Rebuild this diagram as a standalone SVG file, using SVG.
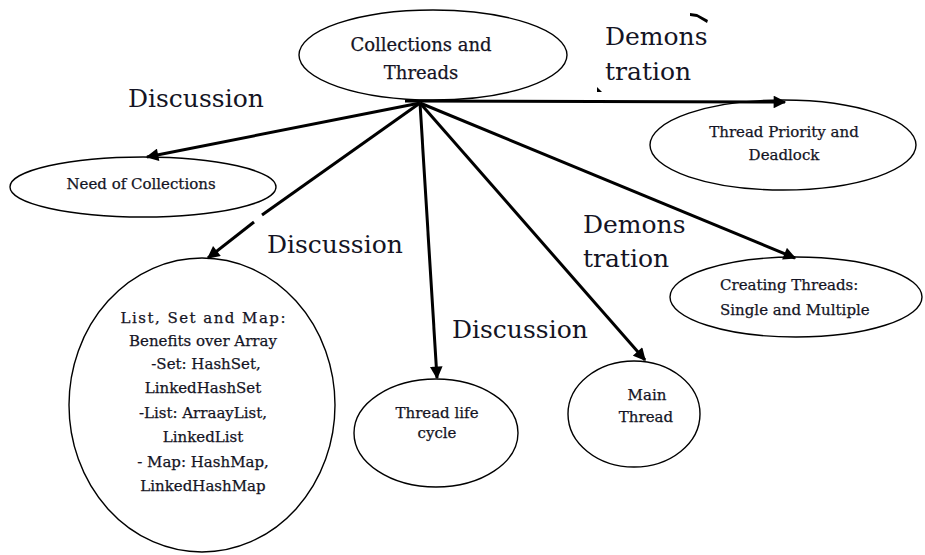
<svg xmlns="http://www.w3.org/2000/svg" width="925" height="555" viewBox="0 0 925 555">
  <style>
    .node ellipse { fill: #ffffff; stroke: #000000; stroke-width: 1.4; }
    .node text { font-family: "DejaVu Serif", "Liberation Serif", serif; font-size: 15px; fill: #141424; stroke: #141424; stroke-width: 0.25; text-anchor: middle; }
    .node text.big { font-size: 18px; }
    .label { font-family: "DejaVu Serif", "Liberation Serif", serif; font-size: 25px; fill: #141424; }
    .edge { stroke: #000000; stroke-width: 3; fill: none; marker-end: url(#head); }
    .mark { fill: #000000; stroke: none; }
  </style>
  <defs>
    <marker id="head" viewBox="0 0 10 10" refX="9" refY="5" markerWidth="4.5" markerHeight="4.2" orient="auto" markerUnits="strokeWidth">
      <path d="M0,0 L10,5 L0,10 Z" fill="#000000"/>
    </marker>
  </defs>

  <rect x="0" y="0" width="925" height="555" fill="#ffffff"/>

  <!-- nodes -->
  <g id="collections-threads" class="node">
    <ellipse cx="433" cy="55" rx="134" ry="45"/>
    <text class="big" x="421" y="51">Collections and</text>
    <text class="big" x="421" y="79">Threads</text>
  </g>

  <g id="need-of-collections" class="node">
    <ellipse cx="143" cy="187" rx="133" ry="30"/>
    <text x="141" y="189">Need of Collections</text>
  </g>

  <g id="thread-priority" class="node">
    <ellipse cx="783" cy="145" rx="133" ry="45"/>
    <text x="784" y="137">Thread Priority and</text>
    <text x="784" y="160">Deadlock</text>
  </g>

  <g id="creating-threads" class="node">
    <ellipse cx="796" cy="297" rx="126" ry="40"/>
    <text x="720" y="290" style="text-anchor:start">Creating Threads:</text>
    <text x="720" y="315" style="text-anchor:start">Single and Multiple</text>
  </g>

  <g id="list-set-map" class="node">
    <ellipse cx="202" cy="405" rx="133" ry="147"/>
    <text x="203" y="323" textLength="165" lengthAdjust="spacing">List, Set and Map:</text>
    <text x="203" y="346">Benefits over Array</text>
    <text x="206" y="369">-Set: HashSet,</text>
    <text x="203" y="393">LinkedHashSet</text>
    <text x="203" y="418">-List: ArraayList,</text>
    <text x="203" y="442">LinkedList</text>
    <text x="203" y="467">- Map: HashMap,</text>
    <text x="203" y="491">LinkedHashMap</text>
  </g>

  <g id="thread-life-cycle" class="node">
    <ellipse cx="436" cy="433" rx="82" ry="54"/>
    <text x="437" y="418">Thread life</text>
    <text x="437" y="438">cycle</text>
  </g>

  <g id="main-thread" class="node">
    <ellipse cx="634" cy="414" rx="66" ry="53"/>
    <text x="647" y="400">Main</text>
    <text x="646" y="422">Thread</text>
  </g>

  <!-- connectors -->
  <g id="connectors">
    <line class="edge" x1="405" y1="101" x2="785" y2="102"/>
    <line class="edge" x1="420" y1="103" x2="147" y2="157"/>
    <line x1="420" y1="103" x2="262" y2="215" stroke="#000000" stroke-width="3"/>
    <line class="edge" x1="254" y1="222" x2="208" y2="258"/>
    <line class="edge" x1="420" y1="103" x2="437" y2="378"/>
    <line class="edge" x1="420" y1="103" x2="645" y2="360"/>
    <line class="edge" x1="420" y1="103" x2="795" y2="258"/>
  </g>

  <!-- edge labels -->
  <g id="labels">
    <text class="label" x="128" y="107">Discussion</text>
    <text class="label" x="605" y="45">Demons</text>
    <text class="label" x="605" y="80">tration</text>
    <text class="label" x="267" y="253">Discussion</text>
    <text class="label" x="583" y="233">Demons</text>
    <text class="label" x="583" y="267">tration</text>
    <text class="label" x="452" y="338">Discussion</text>
  </g>

  <!-- small ink marks -->
  <path class="mark" d="M690,13 L697,14 L708,20 L707,23 L697,17 L690,16 Z"/>
  <path class="mark" d="M597,87 L602,92 L597,92 Z"/>
</svg>
